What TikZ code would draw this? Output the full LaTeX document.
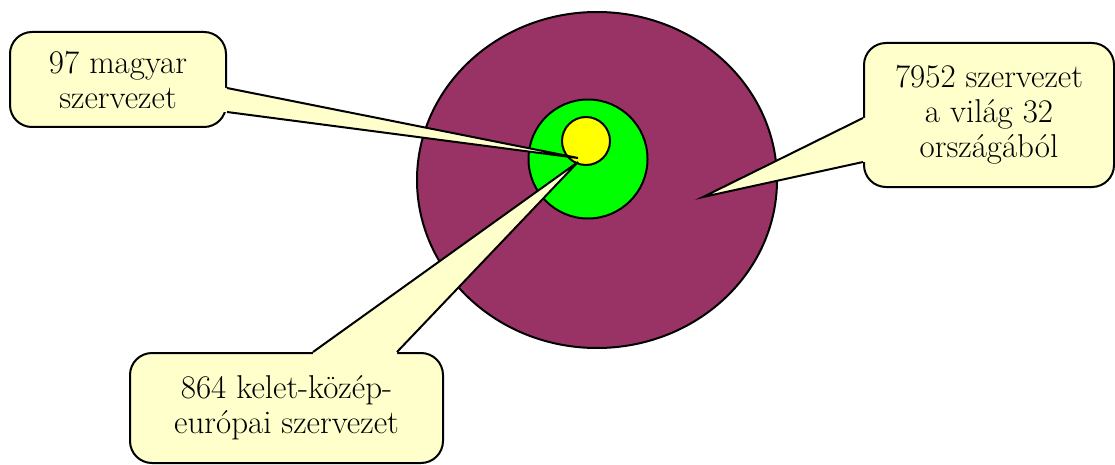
\documentclass[tikz,border=0pt]{standalone}
\usetikzlibrary{calc,shapes.geometric}
\definecolor{worldfill}{HTML}{993366}
\definecolor{ceefill}{HTML}{00FF00}
\definecolor{hufill}{HTML}{FFFF00}
\definecolor{notefill}{HTML}{FFFFCC}

\begin{document}
\begin{tikzpicture}[x=1pt,y=-1pt,line width=2pt,
  disc/.style={draw=black,inner sep=0pt},
  note/.style={draw=black,fill=notefill,rounded corners=22pt,align=center,inner sep=0pt,
    font=\fontsize{33}{35}\selectfont}]
\useasboundingbox (0,0) rectangle (1115,465);
\node[disc,ellipse,fill=worldfill,minimum width=360pt,minimum height=336pt] (world) at (597,180) {};
\node[disc,circle,fill=ceefill,minimum size=119pt] (cee) at (588,159) {};
\node[disc,circle,fill=hufill,minimum size=48pt] (hu) at (586,141) {};
\coordinate (hu-tip) at (578,158);
\coordinate (cee-tip) at (578,162);
\coordinate (world-tip) at (703,197);
\node[note,minimum width=216pt,minimum height=95pt] (hu-note) at (118,79.5) {97 magyar\\szervezet};
\node[note,minimum width=250pt,minimum height=144pt] (world-note) at (989,115) {7952 szervezet\\a világ 32\\országából};
\node[note,minimum width=313pt,minimum height=110pt] (cee-note) at (286.5,408) {864 kelet-közép-\\európai szervezet};
\coordinate (hu-a) at ($(hu-note.east)+(0,8.5)$);
\coordinate (hu-b) at ($(hu-note.east)+(0,32.5)$);
\coordinate (world-a) at ($(world-note.west)+(0,3)$);
\coordinate (world-b) at ($(world-note.west)+(0,47)$);
\coordinate (cee-a) at ($(cee-note.north)+(26.5,0)$);
\coordinate (cee-b) at ($(cee-note.north)+(110.5,0)$);
\fill[notefill] (hu-a) -- (hu-tip) -- (hu-b) -- ($(hu-b)+(-4,0)$) -- ($(hu-a)+(-4,0)$) -- cycle;
\draw (hu-a) -- (hu-tip) -- (hu-b);
\fill[notefill] (world-a) -- (world-tip) -- (world-b) -- ($(world-b)+(4,0)$) -- ($(world-a)+(4,0)$) -- cycle;
\draw (world-a) -- (world-tip) -- (world-b);
\fill[notefill] (cee-a) -- (cee-tip) -- (cee-b) -- ($(cee-b)+(0,4)$) -- ($(cee-a)+(0,4)$) -- cycle;
\draw (cee-a) -- (cee-tip) -- (cee-b);
\end{tikzpicture}
\end{document}
